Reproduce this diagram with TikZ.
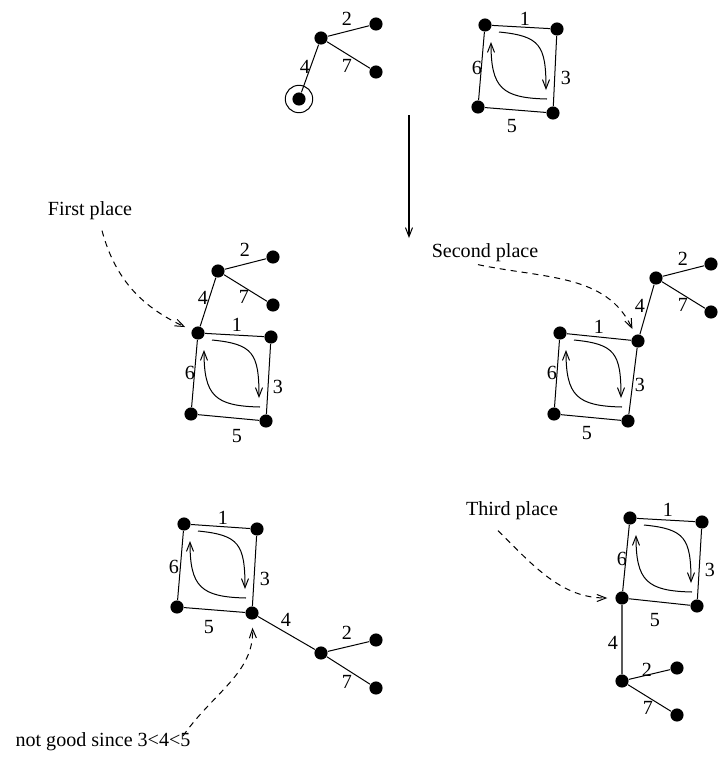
\documentclass[tikz,border=0pt]{standalone}
\usepackage{fontspec}
\setmainfont{Liberation Serif}
\usetikzlibrary{arrows.meta}

\tikzset{
  dot/.style={circle,fill,inner sep=0pt,minimum size=0.23cm},
  num/.style={inner sep=0pt},
  note/.style={inner sep=1pt},
  barb/.style={-{Straight Barb[length=4.5pt,width=3.5pt]}},
  hint/.style={barb,dash pattern=on 3pt off 2.5pt},
}

% the two turning arrows inside a square, measured from its upper left corner
\newcommand\turnarrows[1]{%
  \begin{scope}[shift={(#1)}]
    \draw[barb] (14,7) .. controls (55,11) and (61,20) .. (61,65);
    \draw[barb] (62,74) .. controls (17,73) and (6,63) .. (6,17);
  \end{scope}}

\begin{document}
\begin{tikzpicture}[x=0.0175cm,y=-0.0175cm,line width=0.5pt]
  \useasboundingbox (0,0) rectangle (719,762);

  % before: the tree and the square
  \node[dot] (tHub) at (321,38) {};
  \node[dot] (tLeafU) at (376,24) {};
  \node[dot] (tLeafD) at (376,72) {};
  \node[dot] (tRoot) at (299,99) {};
  \node[circle,draw,inner sep=0pt,minimum size=0.48cm] (tRing) at (tRoot) {};
  \draw (tRoot) -- (tHub) -- (tLeafU);
  \draw (tHub) -- (tLeafD);
  \node[num] (t2) at (347,19) {2};
  \node[num] (t7) at (347,66) {7};
  \node[num] (t4) at (305,67) {4};

  \node[dot] (tNW) at (485,25) {};
  \node[dot] (tNE) at (557,29) {};
  \node[dot] (tSE) at (553,113) {};
  \node[dot] (tSW) at (478,107) {};
  \draw (tNW) -- (tNE) -- (tSE) -- (tSW) -- (tNW);
  \node[num] (t1) at (525,19) {1};
  \node[num] (t6) at (477,68) {6};
  \node[num] (t3) at (566,78) {3};
  \node[num] (t5) at (512,126) {5};
  \turnarrows{tNW}

  \coordinate (downA) at (409,115);
  \coordinate (downB) at (409,238);
  \draw[barb] (downA) -- (downB);

  % first place
  \node[dot] (fHub) at (218,271) {};
  \node[dot] (fLeafU) at (273,257) {};
  \node[dot] (fLeafD) at (273,305) {};
  \node[dot] (fNW) at (198,333) {};
  \node[dot] (fNE) at (271,337) {};
  \node[dot] (fSE) at (266,421) {};
  \node[dot] (fSW) at (191,414) {};
  \draw (fNW) -- (fHub) -- (fLeafU);
  \draw (fHub) -- (fLeafD);
  \draw (fNW) -- (fNE) -- (fSE) -- (fSW) -- (fNW);
  \node[num] (f2) at (245,250) {2};
  \node[num] (f7) at (244,297) {7};
  \node[num] (f4) at (203,298) {4};
  \node[num] (f1) at (237,325) {1};
  \node[num] (f6) at (190,373) {6};
  \node[num] (f3) at (278,387) {3};
  \node[num] (f5) at (237,436) {5};
  \turnarrows{fNW}
  \node[note] (firstTxt) at (90,211) {First place};
  \draw[hint,shorten >=3.5pt] ([shift={(12,8)}]firstTxt.south) to[out=-75,in=155] (fNW);

  % second place
  \node[dot] (sHub) at (656,278) {};
  \node[dot] (sLeafU) at (711,264) {};
  \node[dot] (sLeafD) at (711,312) {};
  \node[dot] (sNW) at (560,333) {};
  \node[dot] (sNE) at (638,341) {};
  \node[dot] (sSE) at (628,421) {};
  \node[dot] (sSW) at (554,414) {};
  \draw (sNE) -- (sHub) -- (sLeafU);
  \draw (sHub) -- (sLeafD);
  \draw (sNW) -- (sNE) -- (sSE) -- (sSW) -- (sNW);
  \node[num] (s2) at (683,259) {2};
  \node[num] (s7) at (683,305) {7};
  \node[num] (s4) at (640,306) {4};
  \node[num] (s1) at (599,327) {1};
  \node[num] (s6) at (552,373) {6};
  \node[num] (s3) at (640,385) {3};
  \node[num] (s5) at (587,433) {5};
  \turnarrows{sNW}
  \node[note] (secondTxt) at (485,253) {Second place};
  \draw[hint,shorten >=3pt] ([shift={(-7,0)}]secondTxt.south) to[out=-12,in=115] (sNE);

  % not good
  \node[dot] (nNW) at (184,524) {};
  \node[dot] (nNE) at (257,529) {};
  \node[dot] (nSE) at (252,613) {};
  \node[dot] (nSW) at (177,607) {};
  \node[dot] (nHub) at (321,653) {};
  \node[dot] (nLeafU) at (376,640) {};
  \node[dot] (nLeafD) at (376,688) {};
  \draw (nNW) -- (nNE) -- (nSE) -- (nSW) -- (nNW);
  \draw (nSE) -- (nHub) -- (nLeafU);
  \draw (nHub) -- (nLeafD);
  \node[num] (n1) at (223,518) {1};
  \node[num] (n6) at (174,567) {6};
  \node[num] (n3) at (265,579) {3};
  \node[num] (n5) at (209,627) {5};
  \node[num] (n4) at (286,620) {4};
  \node[num] (n2) at (347,633) {2};
  \node[num] (n7) at (347,682) {7};
  \turnarrows{nNW}
  \node[note] (badTxt) at (103,742) {not good since 3<4<5};
  \draw[hint,shorten >=3.8pt] ([shift={(-10,-6)}]badTxt.east) to[out=55,in=-88] (nSE);

  % third place
  \node[dot] (hNW) at (630,518) {};
  \node[dot] (hNE) at (702,522) {};
  \node[dot] (hSE) at (697,606) {};
  \node[dot] (hSW) at (622,598) {};
  \node[dot] (hHub) at (622,681) {};
  \node[dot] (hLeafU) at (677,668) {};
  \node[dot] (hLeafD) at (677,715) {};
  \draw (hNW) -- (hNE) -- (hSE) -- (hSW) -- (hNW);
  \draw (hSW) -- (hHub) -- (hLeafU);
  \draw (hHub) -- (hLeafD);
  \node[num] (h1) at (668,510) {1};
  \node[num] (h6) at (622,559) {6};
  \node[num] (h3) at (710,570) {3};
  \node[num] (h5) at (655,620) {5};
  \node[num] (h4) at (613,643) {4};
  \node[num] (h2) at (647,670) {2};
  \node[num] (h7) at (648,708) {7};
  \turnarrows{hNW}
  \node[note] (thirdTxt) at (512,511) {Third place};
  \draw[hint,shorten >=3.8pt] ([shift={(-14,8)}]thirdTxt.south) to[out=-45,in=180] (hSW);
\end{tikzpicture}
\end{document}
